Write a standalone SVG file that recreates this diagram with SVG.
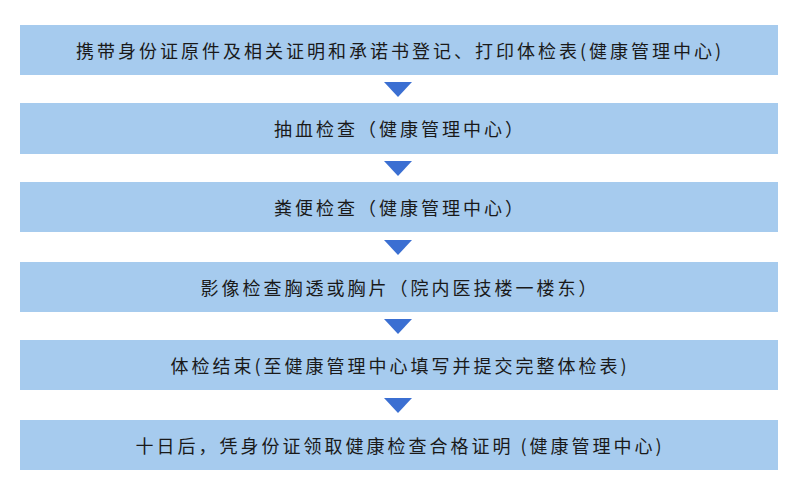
<svg xmlns="http://www.w3.org/2000/svg" width="800" height="500" viewBox="0 0 800 500">
<style>
.b{fill:#a6cbee}
.t{font-family:"Noto Sans CJK SC","Noto Sans CJK JP",sans-serif;font-size:18px;letter-spacing:3px;fill:#1a1a1a;text-anchor:middle;dominant-baseline:central}
.a{fill:#3b6fd2}
</style>
<rect width="800" height="500" fill="#fff"/>
<g id="n1"><rect class="b" x="20" y="25" width="758" height="50"/><text class="t" x="400" y="50">携带身份证原件及相关证明和承诺书登记、打印体检表(健康管理中心)</text></g>
<g id="n2"><rect class="b" x="20" y="103" width="758" height="51"/><text class="t" x="400" y="128">抽血检查（健康管理中心）</text></g>
<g id="n3"><rect class="b" x="20" y="182" width="758" height="50"/><text class="t" x="400" y="207">粪便检查（健康管理中心）</text></g>
<g id="n4"><rect class="b" x="20" y="262" width="758" height="50"/><text class="t" x="400" y="287">影像检查胸透或胸片（院内医技楼一楼东）</text></g>
<g id="n5"><rect class="b" x="20" y="340" width="758" height="50"/><text class="t" x="400" y="365">体检结束(至健康管理中心填写并提交完整体检表)</text></g>
<g id="n6"><rect class="b" x="20" y="420" width="758" height="50"/><text class="t" x="400" y="445">十日后，凭身份证领取健康检查合格证明 (健康管理中心)</text></g>
<g id="connectors">
<polygon class="a" points="384,82 412,82 398,97"/>
<polygon class="a" points="384,161 412,161 398,176"/>
<polygon class="a" points="384,240 412,240 398,255"/>
<polygon class="a" points="384,319 412,319 398,334"/>
<polygon class="a" points="384,398 412,398 398,413"/>
</g>
</svg>
